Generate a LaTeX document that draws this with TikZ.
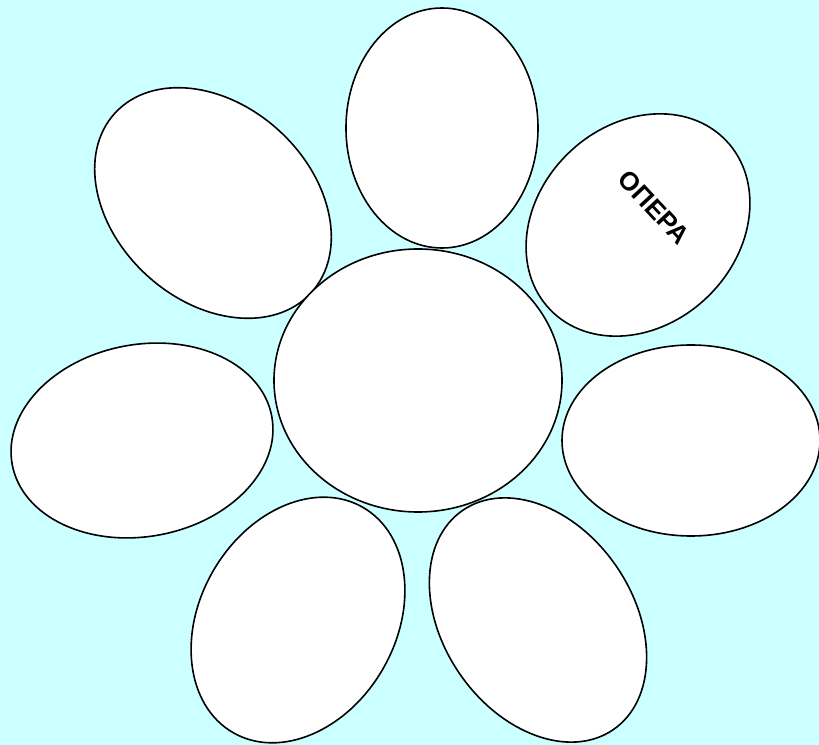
\documentclass[tikz,border=0pt]{standalone}
\usepackage{fontspec}
\usepackage{tikz}
\usetikzlibrary{shapes.geometric}
\newfontfamily\petalfont{Liberation Sans}
\definecolor{skycyan}{RGB}{204,255,255}

\tikzset{
  petal/.style={ellipse,draw=black,fill=white,line width=1.2pt,inner sep=0pt,outer sep=0pt}
}

\begin{document}
\begin{tikzpicture}[x=0.75pt,y=0.75pt,yscale=-1,xscale=1]
\useasboundingbox (0,0) rectangle (819,745);
%Background
\fill [skycyan] (0,0) rectangle (819,745);

%Shape: Ellipse [top]
\node [petal,minimum width=144pt,minimum height=180pt] (top) at (442,128) {};
%Shape: Ellipse [top left]
\node [petal,minimum width=199.5pt,minimum height=147pt,rotate=-42.5] (topleft) at (213,203) {};
%Shape: Ellipse [top right]
\node [petal,minimum width=183pt,minimum height=150pt,rotate=44] (topright) at (638,225) {};
%Shape: Ellipse [left]
\node [petal,minimum width=198pt,minimum height=144pt,rotate=10.5] (left) at (142,440.5) {};
%Shape: Ellipse [right]
\node [petal,minimum width=193.5pt,minimum height=143.25pt] (right) at (691,440.5) {};
%Shape: Ellipse [bottom left]
\node [petal,minimum width=195pt,minimum height=147pt,rotate=60] (bottomleft) at (298,620) {};
%Shape: Ellipse [bottom right]
\node [petal,minimum width=199.5pt,minimum height=142.5pt,rotate=-55.5] (bottomright) at (538,620) {};
%Shape: Ellipse [centre]
\node [petal,minimum width=216pt,minimum height=197.25pt] (centre) at (418,380.5) {};

% Text Node
\node [inner sep=0.75pt,rotate=-47,font=\petalfont\bfseries\fontsize{19.5}{22}\selectfont] (opera) at (654,207.5) {ОПЕРА};

\end{tikzpicture}
\end{document}
